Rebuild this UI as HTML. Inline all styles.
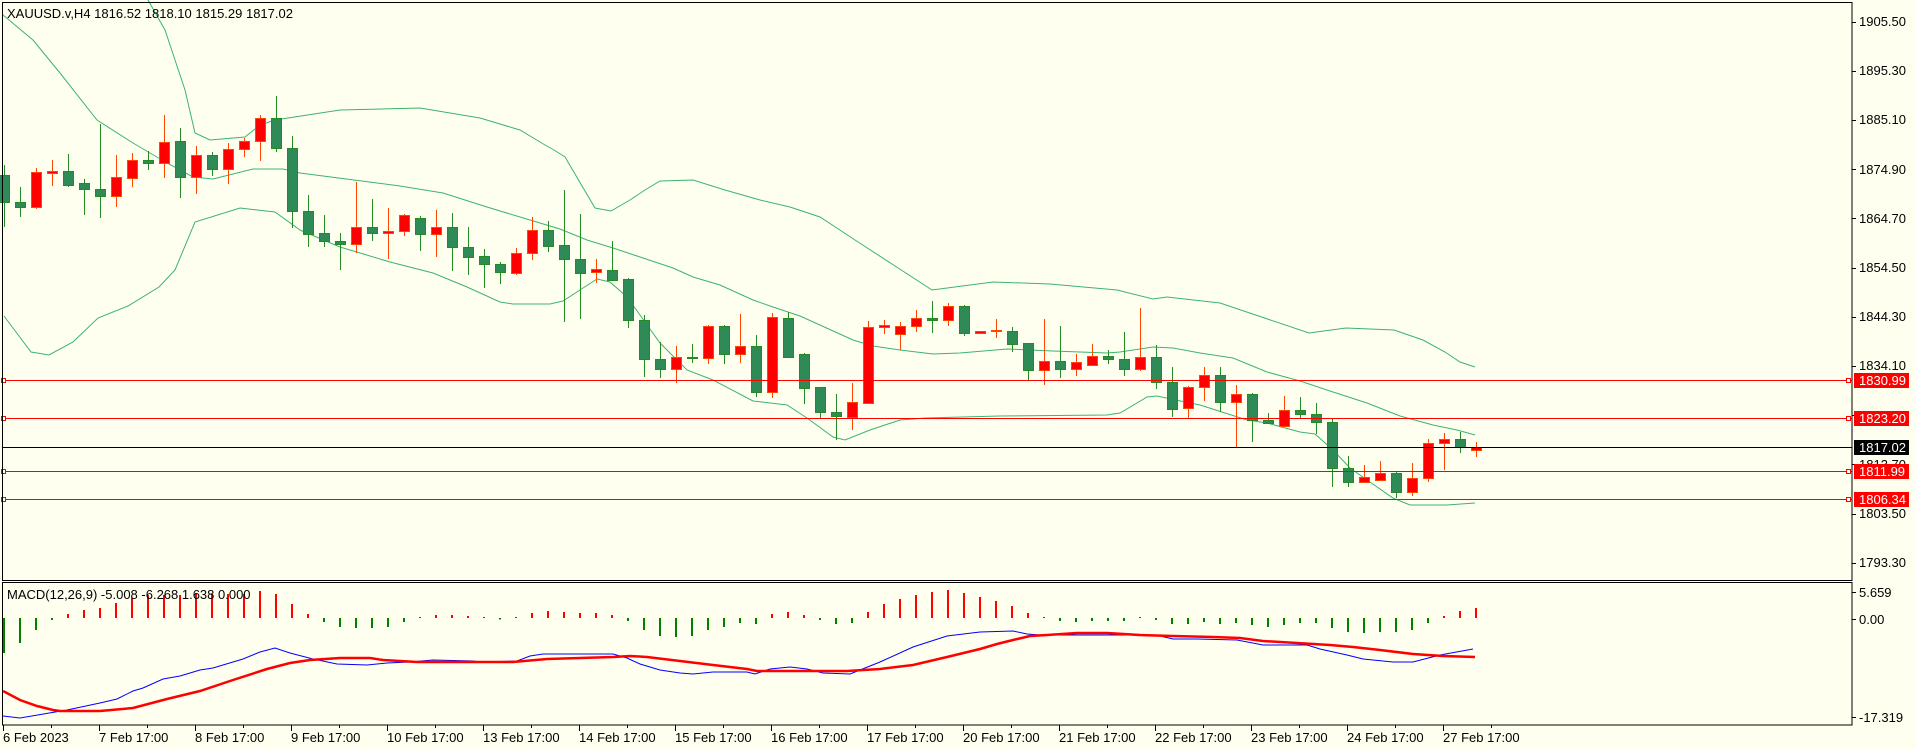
<!DOCTYPE html>
<html><head><meta charset="utf-8"><style>
html,body{margin:0;padding:0;background:#FFFFF0;}
svg{display:block;}
text{font-family:"Liberation Sans",sans-serif;font-size:13px;fill:#000;}
</style></head><body>
<svg id="s" width="1916" height="749" viewBox="0 0 1916 749" xmlns="http://www.w3.org/2000/svg">
<rect x="0" y="0" width="1916" height="749" fill="#FFFFF0"/>
<g id="bands" fill="none" stroke="#3CB371" stroke-width="1">
<polyline points="140,-10 148,0 165,30 175,60 185,90 195,133 210,140 245,137 260,125 275,120 340,110 420,108 480,118 520,130 545,145 554,150 565,157 595,208 611,211 630,200 645,190 660,181 693,180 725,190 760,200 790,207 820,217 855,240 932,290 993,282 1050,284 1117,290 1153,299 1167,297 1220,303 1309,333 1346,328 1394,330 1423,340 1445,352 1460,362 1475,367"/>
<polyline points="3,15 33,40 60,73 97,120 133,143 167,163 193,177 213,179 253,169 283,169 300,173 400,186 443,193 487,207 520,217 560,229 587,240 613,248 640,257 673,268 693,277 720,285 753,300 773,307 800,316 853,340 873,346 900,350 933,354 960,353 1007,349 1053,351 1107,353 1120,352 1153,347 1173,348 1200,353 1233,358 1267,372 1300,381 1333,392 1367,403 1400,416 1433,425 1457,430 1475,435"/>
<polyline points="4,316 31,352 49,355 73,342 98,318 128,306 159,287 175,270 195,222 240,208 275,212 300,230 340,247 390,262 433,273 467,287 500,302 513,304 550,304 563,301 580,290 597,279 610,282 627,297 640,315 660,343 687,370 713,380 753,401 787,405 807,418 833,437 845,440 870,430 900,420 925,418 1000,416 1107,415 1120,413 1147,397 1157,396 1190,403 1200,405 1247,420 1267,423 1300,432 1315,434 1333,450 1350,468 1367,480 1393,498 1410,505 1447,505 1475,503"/>
</g>
<g id="candles"></g>
<g id="hist"></g>
<polyline fill="none" stroke="#0000FF" stroke-width="1" points="3,716 20,718 67,710 100,703 117,699 133,691 143,688 163,679 180,676 200,670 213,668 243,659 260,652 275,648 290,653 313,659 337,664 367,665 387,663 410,662 433,660 473,661 480,662 517,661 530,656 543,654 613,654 627,658 640,664 660,670 680,673 693,674 713,672 747,672 755,674 770,669 790,667 807,669 823,673 850,674 860,670 880,662 913,647 947,636 980,632 1013,631 1027,634 1040,635 1097,635 1130,635 1160,636 1173,639 1197,639 1237,640 1263,645 1307,645 1320,649 1347,655 1363,659 1393,662 1413,662 1440,655 1473,649"/>
<polyline fill="none" stroke="#FF0000" stroke-width="2.5" points="3,691 20,700 37,706 53,710 60,711 100,711 133,708 167,699 200,691 233,680 267,669 290,663 310,660 340,658 370,658 383,660 417,662 480,662 513,662 547,659 580,658 613,657 630,656 647,657 680,661 713,665 747,669 757,671 847,671 880,669 913,665 947,657 980,649 997,644 1013,640 1030,636 1047,635 1077,633 1107,633 1140,635 1173,636 1213,637 1240,638 1263,641 1297,643 1330,645 1353,647 1380,650 1413,654 1443,656 1475,657"/>
<!-- horizontal lines -->
<g stroke="#FF0000" stroke-width="1">
<line x1="2" y1="380.5" x2="1852" y2="380.5"/>
<line x1="2" y1="418.5" x2="1852" y2="418.5"/>
<line x1="2" y1="471.5" x2="1852" y2="471.5"/>
<line x1="2" y1="499.5" x2="1852" y2="499.5"/>
</g>
<g fill="#FFFFF0" stroke="#FF0000" stroke-width="1">
<rect x="1.5" y="378.5" width="4" height="4"/><rect x="1846.5" y="378.5" width="4" height="4"/>
<rect x="1.5" y="416.5" width="4" height="4"/><rect x="1846.5" y="416.5" width="4" height="4"/>
<rect x="1.5" y="469.5" width="4" height="4"/><rect x="1846.5" y="469.5" width="4" height="4"/>
<rect x="1.5" y="497.5" width="4" height="4"/><rect x="1846.5" y="497.5" width="4" height="4"/>
</g>
<line x1="2" y1="447.5" x2="1852" y2="447.5" stroke="#000" stroke-width="1"/>
<!-- frames -->
<g fill="none" stroke="#000" stroke-width="1">
<rect x="2.5" y="2.5" width="1849.5" height="578"/>
<rect x="2.5" y="582.5" width="1849.5" height="142.5"/>
</g>
<g stroke="#000" stroke-width="1" id="ticks"></g>
<text x="7" y="18">XAUUSD.v,H4  1816.52 1818.10 1815.29 1817.02</text>
<text x="7" y="599">MACD(12,26,9) -5.008 -6.268 1.638 0.000</text>
<g>
<text x="1859" y="26">1905.50</text>
<text x="1859" y="75">1895.30</text>
<text x="1859" y="124">1885.10</text>
<text x="1859" y="174">1874.90</text>
<text x="1859" y="223">1864.70</text>
<text x="1859" y="272">1854.50</text>
<text x="1859" y="321">1844.30</text>
<text x="1859" y="370">1834.10</text>
<text x="1859" y="420">1823.90</text>
<text x="1859" y="469">1813.70</text>
<text x="1859" y="518">1803.50</text>
<text x="1859" y="567">1793.30</text>
<text x="1859" y="597">5.659</text>
<text x="1859" y="624">0.00</text>
<text x="1859" y="722">-17.319</text>
</g>
<g>
<rect x="1854" y="373" width="55" height="15" fill="#FF0000"/><text x="1859" y="385" style="fill:#fff">1830.99</text>
<rect x="1854" y="411" width="55" height="15" fill="#FF0000"/><text x="1859" y="423" style="fill:#fff">1823.20</text>
<rect x="1854" y="440" width="55" height="15" fill="#000"/><text x="1859" y="452" style="fill:#fff">1817.02</text>
<rect x="1854" y="464" width="55" height="15" fill="#FF0000"/><text x="1859" y="476" style="fill:#fff">1811.99</text>
<rect x="1854" y="492" width="55" height="15" fill="#FF0000"/><text x="1859" y="504" style="fill:#fff">1806.34</text>
</g>
<g>
<text x="3" y="742">6 Feb 2023</text>
<text x="99" y="742">7 Feb 17:00</text>
<text x="195" y="742">8 Feb 17:00</text>
<text x="291" y="742">9 Feb 17:00</text>
<text x="387" y="742">10 Feb 17:00</text>
<text x="483" y="742">13 Feb 17:00</text>
<text x="579" y="742">14 Feb 17:00</text>
<text x="675" y="742">15 Feb 17:00</text>
<text x="771" y="742">16 Feb 17:00</text>
<text x="867" y="742">17 Feb 17:00</text>
<text x="963" y="742">20 Feb 17:00</text>
<text x="1059" y="742">21 Feb 17:00</text>
<text x="1155" y="742">22 Feb 17:00</text>
<text x="1251" y="742">23 Feb 17:00</text>
<text x="1347" y="742">24 Feb 17:00</text>
<text x="1443" y="742">27 Feb 17:00</text>
</g>
</svg>
<script>
var NS="http://www.w3.org/2000/svg";
function el(p,n,a){var e=document.createElementNS(NS,n);for(var k in a)e.setAttribute(k,a[k]);p.appendChild(e);return e;}
var C=[
"G165,175,202,227","G187,202,207,217","R168,172,207,209","R160,171,173,186","G154,171,185,187","G179,183,189,215","G124,189,196,218","R155,177,196,207","R153,160,178,187","G151,160,163,170",
"R115,142,163,178","G128,141,177,198","R146,155,177,194","G152,155,169,176","R143,149,169,184","R138,141,149,157","R115,118,141,161","G96,118,148,152","G136,148,211,228","G195,211,234,247",
"G215,233,241,247","G233,241,244,270","R182,227,244,253","G199,227,233,241","R208,231,233,259","R214,215,231,236","G216,218,234,251","R210,227,234,257","G213,227,247,271","G227,247,257,275",
"G249,256,264,288","G262,264,272,284","R248,253,273,275","R217,230,253,260","G221,230,246,252","G190,245,259,322","G214,259,273,319","R259,269,272,283","G241,270,280,281","G278,279,320,328",
"G315,320,359,377","G342,359,369,378","R346,357,369,383","G344,357,358,363","R325,326,358,364","G325,326,354,364","R314,346,354,363","G335,346,392,397","R313,317,392,398","G312,318,357,358",
"G353,354,388,404","G387,387,412,418","G394,412,416,440","R383,402,417,430","R321,327,403,403","R320,325,327,334","R322,326,334,350","R310,318,326,332","G301,318,320,333","R303,306,320,326",
"G305,306,333,336","R331,331,333,334","R319,330,331,338","G327,331,344,352","G343,343,370,380","R319,361,370,385","G326,361,369,378","R354,362,369,376","R344,356,365,365","G350,356,359,364",
"G332,359,369,376","R308,357,369,371","G345,357,382,389","G367,382,409,417","R386,387,408,418","R367,375,387,401","G367,375,402,412","R385,394,402,447","G393,394,420,442","G413,420,423,423",
"R396,410,426,426","G397,410,414,418","G403,414,422,434","G419,422,468,487","G456,468,482,487","R465,477,482,483","R461,473,480,480","G472,473,492,498","R463,478,492,496","R439,443,478,482",
"R433,439,443,470","G432,439,447,453","R442,447,450,457"];
var g=document.getElementById("candles");
C.forEach(function(s,i){var r=s[0]=="R";var v=s.slice(1).split(",").map(Number);var x=4+16*i;
var wc=r?"#FF4500":"#228B22",fc=r?"#FF0000":"#2E8B57";
el(g,"line",{x1:x+0.5,x2:x+0.5,y1:v[0],y2:v[3],stroke:wc,"stroke-width":1});
var h=Math.max(v[2]-v[1],1);
el(g,"rect",{x:x-4.5,y:v[1]+0.5,width:10,height:h,fill:fc,stroke:wc,"stroke-width":1});});
var H=[-35,-25,-12,-2,4,8,10,15,20,23,23,23,25,24,24,24,27,24,14,4,-4,-9,-10,-10,-9,-4,1,3,3,2,
1,-1.5,1,5,7,6,5,5,3,-3,-12,-18,-19,-18,-12,-9,-5,-6,4,6,3,-2,-6,-5,6,14,19,23,26,28,25,21,17,12,5,1,-3,-4,-3,-3,-3,0.5,-2,-6,-6,-4,-6,-5,-7,-9,-7,-5,-5,-10,-14,-15,-14,-14,-12,-5,2,7,10];
var hg=document.getElementById("hist");
H.forEach(function(v,i){var x=3+16*i;var z=618;
if(v>=0)el(hg,"rect",{x:x,y:z-Math.max(v,1),width:2,height:Math.max(v,1),fill:"#FF0000"});
else el(hg,"rect",{x:x,y:z,width:2,height:-v,fill:"#008000"});});
var t=document.getElementById("ticks");
for(var k=0;k<16;k++){var x=3.5+96*k;el(t,"line",{x1:x,x2:x,y1:725,y2:731});el(t,"line",{x1:x+48,x2:x+48,y1:725,y2:728});}
[21.5,70.7,119.9,169.1,218.3,267.5,316.7,365.9,415.1,464.3,513.5,562.7,592,619,717].forEach(function(y){el(t,"line",{x1:1852,x2:1856,y1:Math.round(y)+0.5,y2:Math.round(y)+0.5});});
</script>
</body></html>
